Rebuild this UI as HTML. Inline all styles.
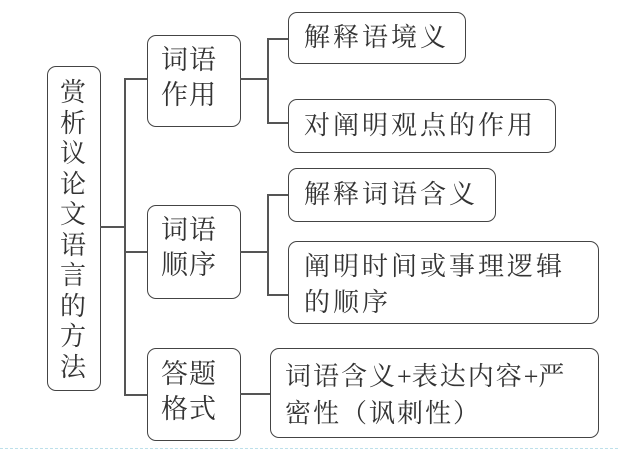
<!DOCTYPE html>
<html><head><meta charset="utf-8"><style>
body{margin:0;width:618px;height:457px;background:#fff;position:relative;overflow:hidden;font-family:"Liberation Serif","Noto Serif CJK SC",serif;color:#333}
.b{position:absolute;border:1.6px solid #444;border-radius:9px;box-sizing:border-box;background:#fff}
.l{position:absolute;background:#555}
.t{position:absolute;font-size:26px;line-height:35px;white-space:nowrap;letter-spacing:3px}
</style></head><body>
<div class="b" style="left:47px;top:66px;width:54px;height:325px"></div>
<div class="t" style="left:60px;top:78px;width:28px;line-height:30.5px;font-size:26px;white-space:normal;letter-spacing:0">赏析议论文语言的方法</div>
<div class="l" style="left:100px;top:226px;width:26px;height:2px"></div>
<div class="l" style="left:124px;top:78px;width:2px;height:317px"></div>
<div class="l" style="left:124px;top:78px;width:24px;height:2px"></div>
<div class="l" style="left:124px;top:251px;width:24px;height:2px"></div>
<div class="l" style="left:124px;top:394px;width:24px;height:2px"></div>
<div class="b" style="left:147px;top:35px;width:94px;height:92px"></div>
<div class="t" style="left:161px;top:43px;font-size:27px;letter-spacing:1px">词语<br>作用</div>
<div class="b" style="left:147px;top:205px;width:94px;height:94px"></div>
<div class="t" style="left:161px;top:213px;font-size:27px;letter-spacing:1px">词语<br>顺序</div>
<div class="b" style="left:147px;top:348px;width:94px;height:93px"></div>
<div class="t" style="left:161px;top:357px;font-size:27px;letter-spacing:1px">答题<br>格式</div>
<div class="l" style="left:240px;top:78px;width:29px;height:2px"></div>
<div class="l" style="left:267px;top:38px;width:2px;height:86px"></div>
<div class="l" style="left:267px;top:38px;width:22px;height:2px"></div>
<div class="l" style="left:267px;top:122px;width:22px;height:2px"></div>
<div class="l" style="left:240px;top:251px;width:29px;height:2px"></div>
<div class="l" style="left:267px;top:194px;width:2px;height:102px"></div>
<div class="l" style="left:267px;top:194px;width:22px;height:2px"></div>
<div class="l" style="left:267px;top:294px;width:22px;height:2px"></div>
<div class="l" style="left:240px;top:393px;width:31px;height:2px"></div>
<div class="b" style="left:288px;top:12px;width:178px;height:52px"></div>
<div class="t" style="left:304px;top:20px">解释语境义</div>
<div class="b" style="left:288px;top:99px;width:268px;height:54px"></div>
<div class="t" style="left:304px;top:108px">对阐明观点的作用</div>
<div class="b" style="left:288px;top:168px;width:208px;height:54px"></div>
<div class="t" style="left:304px;top:177px">解释词语含义</div>
<div class="b" style="left:288px;top:241px;width:311px;height:83px"></div>
<div class="t" style="left:304px;top:249px;line-height:36px">阐明时间或事理逻辑<br>的顺序</div>
<div class="b" style="left:270px;top:348px;width:329px;height:90px"></div>
<div class="t" style="left:285px;top:358px;line-height:37px;letter-spacing:2px">词语含义<span style="letter-spacing:0">+</span>表达内容<span style="letter-spacing:0">+</span>严<br>密性（讽刺性）</div>
<div style="position:absolute;left:0;top:448px;width:618px;border-top:1px dashed #bde0ea"></div>
</body></html>
